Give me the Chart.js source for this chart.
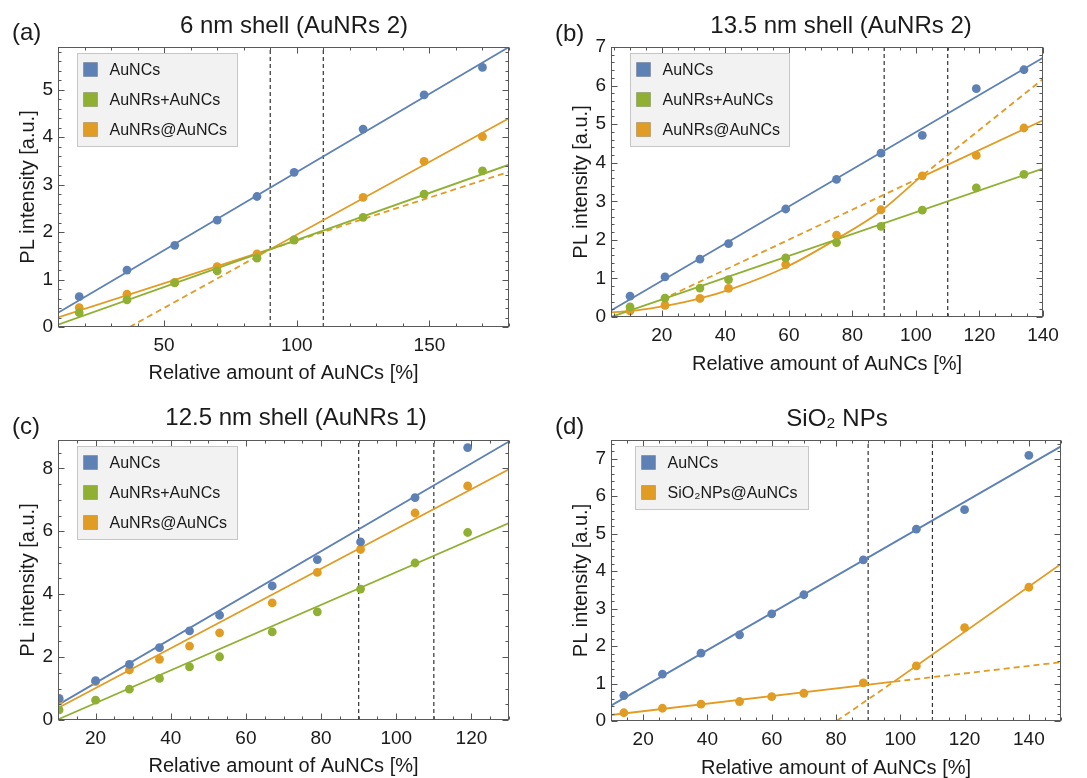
<!DOCTYPE html>
<html>
<head>
<meta charset="utf-8">
<script src="https://cdn.jsdelivr.net/npm/chart.js@4.4.1/dist/chart.umd.min.js"></script>
<style>
  html, body { margin: 0; padding: 0; background: #fff; }
  #wrap { position: relative; width: 1087px; height: 778px; }
  canvas { position: absolute; }
</style>
</head>
<body>
<div id="wrap">
  <canvas id="chartA" width="543" height="389" style="left:0;top:0"></canvas>
  <canvas id="chartB" width="544" height="389" style="left:543px;top:0"></canvas>
  <canvas id="chartC" width="543" height="389" style="left:0;top:389px"></canvas>
  <canvas id="chartD" width="544" height="389" style="left:543px;top:389px"></canvas>
</div>
<script>
const BLUE = "#5E81B5";
const GREEN = "#8FB032";
const ORANGE = "#E19C24";
const FONT = "'Liberation Sans', Arial, Helvetica, sans-serif";
const INK = "#1a1a1a";

// Shared
const refLines = [90, 110];
const xLabel = "Relative amount of AuNCs [%]";
const yLabel = "PL intensity [a.u.]";

// (a) 6 nm shell (AuNRs 2)
const namesA = ["AuNCs", "AuNRs+AuNCs", "AuNRs@AuNCs"];
const xA = [18, 36, 54, 70, 85, 99, 125, 148, 170];
const aAuNCs = [0.64, 1.2, 1.72, 2.25, 2.75, 3.26, 4.17, 4.89, 5.47];
const aMix = [0.3, 0.57, 0.93, 1.18, 1.45, 1.83, 2.31, 2.8, 3.29];
const aCore = [0.41, 0.69, 0.94, 1.27, 1.54, 1.84, 2.73, 3.49, 4.01];
const fitA_AuNCs = [[10, 0.3], [180, 5.9]];
const fitA_Mix = [[10, 0.05], [180, 3.42]];
const fitA_Core = [[10, 0.2], [90, 1.64], [180, 4.4]];
const fitA_CoreExt = [[37, 0], [90, 1.64], [180, 3.27]];

// (b) 13.5 nm shell (AuNRs 2)
const namesB = ["AuNCs", "AuNRs+AuNCs", "AuNRs@AuNCs"];
const xB = [10, 21, 32, 41, 59, 75, 89, 102, 119, 134];
const bAuNCs = [0.54, 1.04, 1.5, 1.9, 2.8, 3.57, 4.25, 4.71, 5.92, 6.41];
const bMix = [0.26, 0.49, 0.75, 0.97, 1.53, 1.93, 2.35, 2.77, 3.35, 3.7];
const bCore = [0.16, 0.3, 0.48, 0.74, 1.36, 2.12, 2.78, 3.66, 4.19, 4.9];
const fitB_AuNCs = [[4, 0.17], [140, 6.72]];
const fitB_Mix = [[4, 0], [140, 3.85]];
const fitB_CoreCurve = [[4, 0.12], [12, 0.17], [22, 0.3], [32, 0.48], [42, 0.73], [60, 1.33], [75, 2.02], [89, 2.75], [101, 3.6]];
const fitB_CoreLine = [[101, 3.6], [140, 5.1]];
const fitB_CoreExt = [[20, 0.45], [101, 3.6], [140, 6.17]];

// (c) 12.5 nm shell (AuNRs 1)
const namesC = ["AuNCs", "AuNRs+AuNCs", "AuNRs@AuNCs"];
const xC = [10.3, 20, 29, 37, 45, 53, 67, 79, 90.5, 105, 119];
const cAuNCs = [0.69, 1.25, 1.77, 2.3, 2.83, 3.33, 4.26, 5.1, 5.66, 7.07, 8.66];
const cMix = [0.32, 0.63, 0.98, 1.32, 1.69, 2.01, 2.8, 3.44, 4.16, 4.99, 5.96];
const cCore = [0.63, 1.22, 1.59, 1.93, 2.35, 2.77, 3.72, 4.69, 5.42, 6.58, 7.44];
const fitC_AuNCs = [[10, 0.48], [130, 8.85]];
const fitC_Mix = [[10, 0.02], [130, 6.26]];
const fitC_Core = [[10, 0.38], [130, 7.97]];

// (d) SiO2 NPs
const namesD = ["AuNCs", "SiO\u2082NPs@AuNCs"];
const xD = [14, 26, 38, 50, 60, 70, 88.5, 105, 120, 140];
const dAuNCs = [0.68, 1.25, 1.81, 2.3, 2.86, 3.37, 4.3, 5.12, 5.64, 7.09];
const dCore = [0.22, 0.34, 0.45, 0.52, 0.65, 0.74, 1.02, 1.47, 2.49, 3.57];
const fitD_AuNCs = [[10, 0.41], [150, 7.33]];
const fitD_Core = [[10, 0.16], [98, 1.05], [150, 4.19]];
const fitD_CoreExt = [[80.2, 0], [98, 1.05], [150, 1.57]];

// helpers
const pts = (xs, ys) => xs.map((x, i) => ({ x: x, y: ys[i] }));
const pairs = (arr) => arr.map((p) => ({ x: p[0], y: p[1] }));

function dots(xs, ys, color) {
  return {
    data: pts(xs, ys),
    showLine: false,
    pointRadius: 4.4,
    pointHoverRadius: 4.4,
    pointBorderWidth: 0,
    pointBackgroundColor: color,
    borderColor: color,
  };
}

function line(arr, color, dash, smooth) {
  return {
    data: pairs(arr),
    showLine: true,
    pointRadius: 0,
    borderColor: color,
    borderWidth: 1.8,
    borderDash: dash || [],
    cubicInterpolationMode: smooth ? "monotone" : "default",
    tension: 0,
    fill: false,
  };
}

function vlines(yMin, yMax) {
  return refLines.map((x) => ({
    data: [{ x: x, y: yMin }, { x: x, y: yMax }],
    showLine: true,
    pointRadius: 0,
    borderColor: "#333",
    borderWidth: 1.2,
    borderDash: [4, 3],
  }));
}

const isMult = (v, step) => Math.abs(v / step - Math.round(v / step)) < 1e-6;

// tick values at multiples of the major step inside [min, max]
function majorTicks(min, max, step) {
  const out = [];
  for (let k = Math.ceil(min / step - 1e-9); k * step <= max + 1e-9; k++) {
    out.push({ value: +(k * step).toFixed(6) });
  }
  return out;
}

// frame, inward ticks, legend, title and panel tag
const decor = {
  id: "decor",
  afterDraw(chart, args, o) {
    const ctx = chart.ctx;
    const a = chart.chartArea;
    const l = Math.round(a.left) + 0.5, r = Math.round(a.right) - 0.5;
    const t = Math.round(a.top) + 0.5, b = Math.round(a.bottom) - 0.5;
    ctx.save();
    ctx.strokeStyle = "#5a5a5a";
    ctx.lineWidth = 1;
    ctx.strokeRect(l, t, r - l, b - t);

    ctx.strokeStyle = "#555";
    const sx = chart.scales.x, sy = chart.scales.y;
    ctx.beginPath();
    for (let k = Math.ceil(o.xMin / o.xMinor - 1e-9); k * o.xMinor <= o.xMax + 1e-9; k++) {
      const v = k * o.xMinor;
      const len = isMult(v, o.xMajor) ? 6 : 3;
      const px = Math.round(sx.getPixelForValue(v)) + 0.5;
      ctx.moveTo(px, b); ctx.lineTo(px, b - len);
      ctx.moveTo(px, t); ctx.lineTo(px, t + len);
    }
    for (let k = Math.ceil(o.yMin / o.yMinor - 1e-9); k * o.yMinor <= o.yMax + 1e-9; k++) {
      const v = k * o.yMinor;
      const len = isMult(v, o.yMajor) ? 6 : 3;
      const py = Math.round(sy.getPixelForValue(v)) + 0.5;
      ctx.moveTo(l, py); ctx.lineTo(l + len, py);
      ctx.moveTo(r, py); ctx.lineTo(r - len, py);
    }
    ctx.stroke();

    // legend
    const n = o.legend.length;
    const bx = Math.round(a.left + o.legX) + 0.5, by = Math.round(a.top + 6) + 0.5;
    const bh = 16 + 30 * (n - 1) + 17;
    ctx.fillStyle = "#f2f2f2";
    ctx.fillRect(bx, by, o.legW, bh);
    ctx.strokeStyle = "#c6c6c6";
    ctx.strokeRect(bx, by, o.legW, bh);
    ctx.font = "16px " + FONT;
    ctx.textAlign = "left";
    ctx.textBaseline = "middle";
    o.legend.forEach((it, i) => {
      const cy = by + 16 + 30 * i;
      ctx.fillStyle = it.color;
      ctx.fillRect(bx + 6, cy - 7, 14, 14);
      ctx.strokeStyle = "rgba(0,0,0,0.18)";
      ctx.strokeRect(bx + 6, cy - 7, 14, 14);
      ctx.fillStyle = INK;
      ctx.fillText(it.label, bx + 32, cy + 1);
    });

    // title and tag
    ctx.fillStyle = INK;
    ctx.font = "24px " + FONT;
    ctx.textBaseline = "alphabetic";
    ctx.textAlign = "center";
    ctx.fillText(o.title, o.titleX, o.titleY);
    ctx.textAlign = "left";
    ctx.fillText(o.tag, o.tagX, o.tagY);
    ctx.restore();
  },
};

function makeChart(id, p, datasets, legend) {
  const tickFont = { family: FONT, size: 19, lineHeight: 1.2 };
  const titleFont = { family: FONT, size: 20, lineHeight: 1 };
  return new Chart(document.getElementById(id), {
    type: "scatter",
    data: { datasets: datasets },
    plugins: [decor],
    options: {
      responsive: false,
      animation: false,
      events: [],
      layout: { padding: { top: p.T, right: p.W - p.R, left: 0, bottom: 0 } },
      plugins: {
        legend: { display: false },
        tooltip: { enabled: false },
        decor: Object.assign({}, p, { legend: legend }),
      },
      scales: {
        x: {
          type: "linear",
          min: p.xMin,
          max: p.xMax,
          grid: { display: false, drawTicks: false },
          border: { display: false },
          ticks: {
            stepSize: p.xMajor,
            autoSkip: false,
            maxRotation: 0,
            padding: 7.5,
            color: INK,
            font: tickFont,
          },
          afterBuildTicks: (s) => { s.ticks = majorTicks(p.xMin, p.xMax, p.xMajor); },
          afterFit: (s) => { s.height = p.H - p.B; },
          title: { display: true, text: xLabel, color: INK, font: titleFont, padding: { top: 0, bottom: p.xTitlePad } },
        },
        y: {
          type: "linear",
          min: p.yMin,
          max: p.yMax,
          grid: { display: false, drawTicks: false },
          border: { display: false },
          ticks: {
            stepSize: p.yMajor,
            padding: 5,
            color: INK,
            font: tickFont,
          },
          afterBuildTicks: (s) => { s.ticks = majorTicks(p.yMin, p.yMax, p.yMajor); },
          afterFit: (s) => { s.width = p.L; },
          title: { display: true, text: yLabel, color: INK, font: titleFont, padding: { top: p.yTitlePad, bottom: 0 } },
        },
      },
    },
  });
}

// panel layouts
const panelA = { xMin: 10, xMax: 180, xMajor: 50, xMinor: 10, yMin: 0, yMax: 5.9, yMajor: 1, yMinor: 0.2,
  L: 58, R: 509, T: 47, B: 327, W: 543, H: 389, xTitlePad: 5.7, yTitlePad: 18.5,
  title: "6 nm shell (AuNRs 2)", titleX: 294, titleY: 33, tag: "(a)", tagX: 12, tagY: 40, legX: 19, legW: 160 };
const panelB = { xMin: 4, xMax: 140, xMajor: 20, xMinor: 5, yMin: 0, yMax: 7, yMajor: 1, yMinor: 0.2,
  L: 68, R: 500, T: 47, B: 317, W: 544, H: 389, xTitlePad: 15, yTitlePad: 28,
  title: "13.5 nm shell (AuNRs 2)", titleX: 298, titleY: 33, tag: "(b)", tagX: 12, tagY: 41, legX: 19, legW: 159 };
const panelC = { xMin: 10, xMax: 130, xMajor: 20, xMinor: 5, yMin: 0, yMax: 8.9, yMajor: 2, yMinor: 0.5,
  L: 58, R: 509, T: 51, B: 331, W: 543, H: 389, xTitlePad: 1.3, yTitlePad: 18,
  title: "12.5 nm shell (AuNRs 1)", titleX: 296, titleY: 36, tag: "(c)", tagX: 12, tagY: 45, legX: 19, legW: 160 };
const panelD = { xMin: 10, xMax: 150, xMajor: 20, xMinor: 5, yMin: 0, yMax: 7.5, yMajor: 1, yMinor: 0.2,
  L: 68, R: 518, T: 51, B: 332, W: 544, H: 389, xTitlePad: 0, yTitlePad: 28,
  title: "SiO\u2082 NPs", titleX: 294, titleY: 37, tag: "(d)", tagX: 12, tagY: 45, legX: 24, legW: 173 };

makeChart("chartA", panelA, [
  dots(xA, aAuNCs, BLUE), dots(xA, aMix, GREEN), dots(xA, aCore, ORANGE),
  line(fitA_AuNCs, BLUE), line(fitA_Mix, GREEN), line(fitA_Core, ORANGE),
  line(fitA_CoreExt, ORANGE, [6, 4]),
  ...vlines(panelA.yMin, panelA.yMax),
], [
  { label: namesA[0], color: BLUE }, { label: namesA[1], color: GREEN }, { label: namesA[2], color: ORANGE },
]);

makeChart("chartB", panelB, [
  dots(xB, bAuNCs, BLUE), dots(xB, bMix, GREEN), dots(xB, bCore, ORANGE),
  line(fitB_AuNCs, BLUE), line(fitB_Mix, GREEN),
  line(fitB_CoreCurve, ORANGE, null, true), line(fitB_CoreLine, ORANGE),
  line(fitB_CoreExt, ORANGE, [6, 4]),
  ...vlines(panelB.yMin, panelB.yMax),
], [
  { label: namesB[0], color: BLUE }, { label: namesB[1], color: GREEN }, { label: namesB[2], color: ORANGE },
]);

makeChart("chartC", panelC, [
  dots(xC, cAuNCs, BLUE), dots(xC, cMix, GREEN), dots(xC, cCore, ORANGE),
  line(fitC_AuNCs, BLUE), line(fitC_Mix, GREEN), line(fitC_Core, ORANGE),
  ...vlines(panelC.yMin, panelC.yMax),
], [
  { label: namesC[0], color: BLUE }, { label: namesC[1], color: GREEN }, { label: namesC[2], color: ORANGE },
]);

makeChart("chartD", panelD, [
  dots(xD, dAuNCs, BLUE), dots(xD, dCore, ORANGE),
  line(fitD_AuNCs, BLUE), line(fitD_Core, ORANGE),
  line(fitD_CoreExt, ORANGE, [6, 4]),
  ...vlines(panelD.yMin, panelD.yMax),
], [
  { label: namesD[0], color: BLUE }, { label: namesD[1], color: ORANGE },
]);
</script>
</body>
</html>
